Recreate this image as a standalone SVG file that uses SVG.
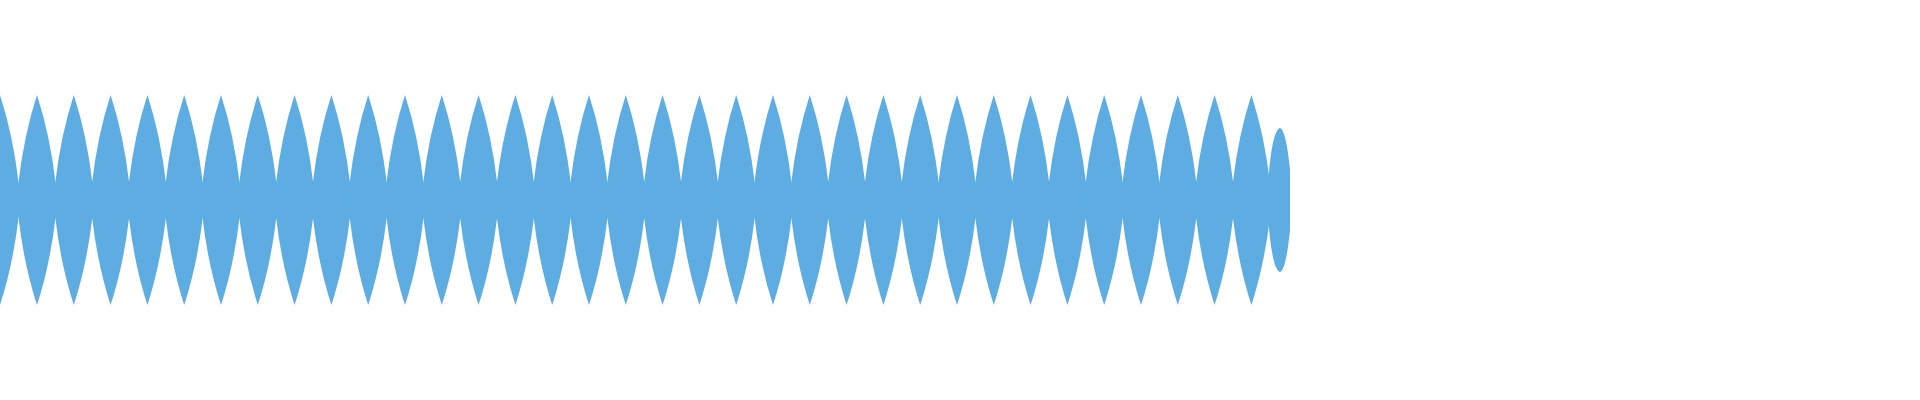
<svg xmlns="http://www.w3.org/2000/svg" xmlns:xlink="http://www.w3.org/1999/xlink" width="1920" height="400" viewBox="0 0 1920 400">
<style>.w{fill:#5dade2}</style>
<defs><path id="l" class="w" d="M-18.6,-17 Q-13,-65 0,-105 Q13,-65 18.6,-17 L18.6,17 Q13,65 0,105 Q-13,65 -18.6,17Z"/></defs>
<rect width="1920" height="400" fill="#fff"/>
<g id="wave" class="w">
<rect x="0" y="183" width="1275" height="34"/>
<use href="#l" x="0" y="200"/>
<use href="#l" x="37" y="200"/><use href="#l" x="73.8" y="200"/><use href="#l" x="110.6" y="200"/><use href="#l" x="147.4" y="200"/><use href="#l" x="184.2" y="200"/><use href="#l" x="221" y="200"/><use href="#l" x="257.8" y="200"/><use href="#l" x="294.6" y="200"/><use href="#l" x="331.4" y="200"/><use href="#l" x="368.2" y="200"/><use href="#l" x="405" y="200"/><use href="#l" x="441.8" y="200"/><use href="#l" x="478.6" y="200"/><use href="#l" x="515.4" y="200"/><use href="#l" x="552.2" y="200"/><use href="#l" x="589" y="200"/><use href="#l" x="625.8" y="200"/><use href="#l" x="662.6" y="200"/><use href="#l" x="699.4" y="200"/><use href="#l" x="736.2" y="200"/><use href="#l" x="773" y="200"/><use href="#l" x="809.8" y="200"/><use href="#l" x="846.6" y="200"/><use href="#l" x="883.4" y="200"/><use href="#l" x="920.2" y="200"/><use href="#l" x="957" y="200"/><use href="#l" x="993.8" y="200"/><use href="#l" x="1030.6" y="200"/><use href="#l" x="1067.4" y="200"/><use href="#l" x="1104.2" y="200"/><use href="#l" x="1141" y="200"/><use href="#l" x="1177.8" y="200"/><use href="#l" x="1214.6" y="200"/><use href="#l" x="1251.4" y="200"/>
<path d="M1268,183 Q1272,130 1280,128 Q1286,130 1290,170 L1290,230 Q1286,270 1280,272 Q1272,270 1268,217Z"/>
</g>
</svg>
